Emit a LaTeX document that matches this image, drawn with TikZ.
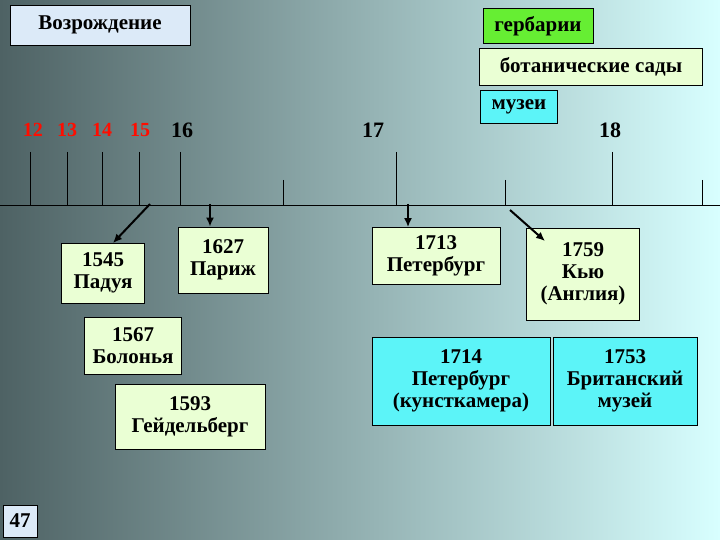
\documentclass[tikz,border=0pt]{standalone}
\usepackage{fontspec}
\usetikzlibrary{arrows.meta}
\setmainfont{Liberation Serif}
\definecolor{lgr}{HTML}{EAFFD4}
\definecolor{cyb}{HTML}{5CF4F8}
\definecolor{lbl}{HTML}{DCEAF8}
\definecolor{grn}{HTML}{66EE33}
\definecolor{bgl}{HTML}{4E6264}
\definecolor{bgm}{HTML}{8EB0B0}
\definecolor{bgr}{HTML}{D8FFFF}
\begin{document}
\begin{tikzpicture}[x=1pt,y=1pt,
  bx/.style={draw=black,line width=0.8pt,font=\bfseries\fontsize{21}{22}\selectfont,align=center,inner sep=1pt},
  lg/.style={bx,fill=lgr},
  cy/.style={bx,fill=cyb},
  tk/.style={line width=0.7pt},
  ar/.style={-{Latex[length=9pt,width=8pt]},line width=2pt},
  yr/.style={font=\bfseries\fontsize{22}{24}\selectfont},
  ryr/.style={font=\bfseries\fontsize{20}{22}\selectfont,text=red!90!orange}]
\shade[left color=bgl, middle color=bgm, right color=bgr] (0,0) rectangle (720,-540);
\useasboundingbox (0,0) rectangle (720,-540);
\node[bx,fill=lbl,minimum width=180pt,minimum height=40pt] (voz) at (100,-25) {Возрождение};
\node[bx,fill=grn,minimum width=110pt,minimum height=35pt] (ger) at (538,-26) {гербарии};
\node[lg,minimum width=223pt,minimum height=37pt] (bot) at (591,-67) {ботанические сады};
\node[cy,minimum width=77pt,minimum height=33pt] (muz) at (519,-107) {музеи};
\coordinate (a0) at (0,-206); \coordinate (a1) at (720,-206);
\draw[line width=1pt] (a0) -- (a1);
\foreach \x in {30,67,102,139,180,396,612} \draw[tk] (\x,-152) -- (\x,-206);
\foreach \x in {283,505,702} \draw[tk] (\x,-180) -- (\x,-206);
\node[ryr] (y12) at (33,-130) {12};
\node[ryr] (y13) at (67,-130) {13};
\node[ryr] (y14) at (102,-130) {14};
\node[ryr] (y15) at (140,-130) {15};
\node[yr] (y16) at (182,-130) {16};
\node[yr] (y17) at (373,-130) {17};
\node[yr] (y18) at (610,-130) {18};
\node[lg,minimum width=83pt,minimum height=60pt] (pad) at (103,-273) {1545\\Падуя};
\node[lg,minimum width=90pt,minimum height=66pt] (par) at (223,-260) {1627\\Париж};
\node[lg,minimum width=97pt,minimum height=57pt] (bol) at (133,-346) {1567\\Болонья};
\node[lg,minimum width=150pt,minimum height=65pt] (gei) at (190,-417) {1593\\Гейдельберг};
\node[lg,minimum width=128pt,minimum height=57pt] (pet) at (436,-256) {1713\\Петербург};
\node[lg,minimum width=113pt,minimum height=92pt] (kew) at (583,-274) {1759\\Кью\\(Англия)};
\node[cy,minimum width=178pt,minimum height=88pt] (kun) at (461,-381) {1714\\Петербург\\(кунсткамера)};
\node[cy,minimum width=144pt,minimum height=88pt] (bri) at (625,-381) {1753\\Британский\\музей};
\node[bx,fill=lbl,minimum width=34pt,minimum height=32pt] (n47) at (20,-521) {47};
\coordinate (s1) at (150,-204); \coordinate (s2) at (210,-204);
\coordinate (s3) at (408,-204); \coordinate (s4) at (510,-210);
\coordinate (e1) at (113,-243); \coordinate (e4) at (545,-241);
\draw[ar] (s1) -- (e1);
\draw[ar] (s2) -- (par.north -| s2);
\draw[ar] (s3) -- (pet.north -| s3);
\draw[ar] (s4) -- (e4);
\end{tikzpicture}
\end{document}
